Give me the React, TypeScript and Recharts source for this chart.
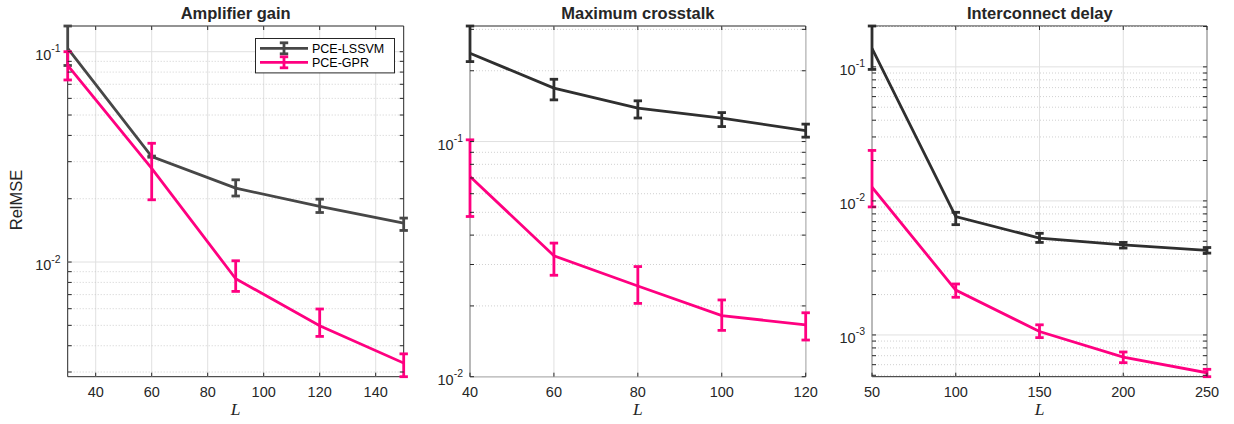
import React from 'react';
import {
  LineChart,
  Line,
  XAxis,
  YAxis,
  ErrorBar,
  ReferenceArea,
  ReferenceLine,
  Legend,
} from 'recharts';

// ---- Amplifier gain ----
const gainL = [30, 60, 90, 120, 150];
const gainLssvm = [0.1038, 0.0317, 0.02245, 0.01837, 0.01531];
const gainLssvmLow = [0.086, 0.0315, 0.0206, 0.0172, 0.01413];
const gainLssvmHigh = [0.1325, 0.0319, 0.0246, 0.0199, 0.01618];
const gainGpr = [0.086, 0.0279, 0.00833, 0.00498, 0.00331];
const gainGprLow = [0.0734, 0.01977, 0.00725, 0.00443, 0.00285];
const gainGprHigh = [0.1, 0.0367, 0.01014, 0.00598, 0.00366];

// ---- Maximum crosstalk ----
const xtalkL = [40, 60, 80, 100, 120];
const xtalkLssvm = [0.2375, 0.1687, 0.1387, 0.1258, 0.1114];
const xtalkLssvmLow = [0.2188, 0.1504, 0.1259, 0.1158, 0.1044];
const xtalkLssvmHigh = [0.31, 0.184, 0.149, 0.1328, 0.1186];
const xtalkGpr = [0.071, 0.0327, 0.0243, 0.0182, 0.0166];
const xtalkGprLow = [0.048, 0.027, 0.0205, 0.01574, 0.01432];
const xtalkGprHigh = [0.1017, 0.037, 0.0294, 0.0212, 0.0187];

// ---- Interconnect delay ----
const delayL = [50, 100, 150, 200, 250];
const delayLssvm = [0.1374, 0.00763, 0.00528, 0.00469, 0.00428];
const delayLssvmLow = [0.0957, 0.00665, 0.0049, 0.00445, 0.00408];
const delayLssvmHigh = [0.2018, 0.00822, 0.00573, 0.0049, 0.00449];
const delayGpr = [0.01265, 0.00216, 0.00106, 0.000684, 0.000522];
const delayGprLow = [0.00902, 0.00191, 0.000955, 0.000621, 0.000488];
const delayGprHigh = [0.0238, 0.0024, 0.00119, 0.000746, 0.000554];

// ---- axes ----
const gainXTicks = [40, 60, 80, 100, 120, 140];
const xtalkXTicks = [40, 60, 80, 100, 120];
const delayXTicks = [50, 100, 150, 200, 250];
const gainXDomain: [number, number] = [30, 150];
const xtalkXDomain: [number, number] = [40, 120];
const delayXDomain: [number, number] = [50, 250];
const gainYDomain: [number, number] = [0.00285, 0.1325];
const xtalkYDomain: [number, number] = [0.01, 0.31];
const delayYDomain: [number, number] = [0.000488, 0.2018];

const seriesNames = ['PCE-LSSVM', 'PCE-GPR'];

const AXIS = '#262626';
const PINK = '#ff0080';
const TOP = 26;
const BOTTOM = 376.7;
const H = 424;
const SANS = '"Liberation Sans", Arial, Helvetica, sans-serif';
const SERIF = '"Liberation Serif", "Times New Roman", serif';

// major (10^k) and minor (m*10^k) tick values inside a log-scale range
function logTicks(lo: number, hi: number) {
  const major: number[] = [];
  const minor: number[] = [];
  const eps = 1e-9;
  for (let k = Math.floor(Math.log10(lo)) - 1; k <= Math.ceil(Math.log10(hi)); k++) {
    for (let m = 1; m <= 9; m++) {
      const v = parseFloat((m * Math.pow(10, k)).toPrecision(6));
      if (v >= lo * (1 - eps) && v <= hi * (1 + eps)) {
        if (m === 1) major.push(v);
        else minor.push(v);
      }
    }
  }
  return { major, minor };
}

function buildRows(
  L: number[],
  m1: number[], lo1: number[], hi1: number[],
  m2: number[], lo2: number[], hi2: number[]
) {
  return L.map((l, i) => ({
    L: l,
    lssvm: m1[i],
    lssvmErr: [m1[i] - lo1[i], hi1[i] - m1[i]],
    gpr: m2[i],
    gprErr: [m2[i] - lo2[i], hi2[i] - m2[i]],
  }));
}

const LegendBox = ({ payload }: any) => {
  const items = [...(payload || [])].sort(
    (a: any, b: any) => seriesNames.indexOf(a.value) - seriesNames.indexOf(b.value)
  );
  return (
    <svg width={141} height={37} style={{ display: 'block', overflow: 'visible' }}>
      <rect x={0.5} y={0.5} width={139} height={34.4} fill="#fff" stroke={AXIS} strokeWidth={1} />
      {items.map((e: any, i: number) => {
        const cy = 10.3 + i * 14;
        return (
          <g key={i}>
            <line x1={5} x2={53} y1={cy} y2={cy} stroke={e.color} strokeWidth={2.8} />
            <line x1={29} x2={29} y1={cy - 5.5} y2={cy + 5.5} stroke={e.color} strokeWidth={2.8} />
            <line x1={24.8} x2={33.2} y1={cy - 5.5} y2={cy - 5.5} stroke={e.color} strokeWidth={2.8} />
            <line x1={24.8} x2={33.2} y1={cy + 5.5} y2={cy + 5.5} stroke={e.color} strokeWidth={2.8} />
            <text x={57} y={cy + 4.4} fontSize={12.5} fontFamily={SANS} fill="#000">
              {e.value}
            </text>
          </g>
        );
      })}
    </svg>
  );
};

type PanelProps = {
  title: string;
  rows: any[];
  xDomain: [number, number];
  xTicks: number[];
  yDomain: [number, number];
  plotLeft: number;
  plotRight: number;
  lssvmColor: string;
  yLabel?: boolean;
  legend?: boolean;
};

function Panel(p: PanelProps) {
  const chartLeft = Math.max(0, p.plotLeft - 68);
  const width = p.plotRight + 20 - chartLeft;
  const plotW = p.plotRight - p.plotLeft;
  const plotH = BOTTOM - TOP;
  const { major, minor } = logTicks(p.yDomain[0], p.yDomain[1]);

  const yTick = (t: any) => {
    const { x, y, payload } = t;
    const v = payload.value;
    const isMajor = major.includes(v);
    const exp = Math.round(Math.log10(v));
    return (
      <g>
        <line x1={x} x2={x + 4} y1={y} y2={y} stroke={AXIS} strokeWidth={1} />
        <line x1={x + plotW} x2={x + plotW - 4} y1={y} y2={y} stroke={AXIS} strokeWidth={1} />
        {isMajor && (
          <text x={x - 7} y={y + 8} textAnchor="end" fontSize={14.5} fontFamily={SANS} fill={AXIS}>
            <tspan>10</tspan>
            <tspan dy={-7.5} fontSize={10.5}>{exp < 0 ? '-' + Math.abs(exp) : String(exp)}</tspan>
          </text>
        )}
      </g>
    );
  };

  const xTick = (t: any) => {
    const { x, y, payload } = t;
    return (
      <g>
        <line x1={x} x2={x} y1={y} y2={y - 4} stroke={AXIS} strokeWidth={1} />
        <line x1={x} x2={x} y1={y - plotH} y2={y - plotH + 4} stroke={AXIS} strokeWidth={1} />
        <text x={x} y={y + 20.5} textAnchor="middle" fontSize={14.5} fontFamily={SANS} fill={AXIS}>
          {payload.value}
        </text>
      </g>
    );
  };

  const xLabel = (props: any) => {
    const vb = props.viewBox || {};
    return (
      <text
        x={vb.x + vb.width / 2}
        y={BOTTOM + 38.5}
        textAnchor="middle"
        fontSize={17.5}
        fontStyle="italic"
        fontFamily={SERIF}
        fill={AXIS}
      >
        L
      </text>
    );
  };

  const yLabel = (props: any) => {
    const vb = props.viewBox || {};
    const tx = vb.x + vb.width - 46;
    const ty = 200;
    return (
      <text
        x={tx}
        y={ty}
        transform={`rotate(-90, ${tx}, ${ty})`}
        textAnchor="middle"
        fontSize={16.5}
        fontFamily={SANS}
        fill={AXIS}
      >
        RelMSE
      </text>
    );
  };

  return (
    <div style={{ position: 'absolute', left: chartLeft, top: 0, width, height: H }}>
      <div
        style={{
          position: 'absolute',
          left: p.plotLeft - chartLeft,
          width: plotW,
          top: 3,
          textAlign: 'center',
          fontFamily: SANS,
          fontWeight: 'bold',
          fontSize: 16.5,
          color: AXIS,
          lineHeight: '20px',
          whiteSpace: 'nowrap',
        }}
      >
        {p.title}
      </div>
      <LineChart
        width={width}
        height={H}
        data={p.rows}
        margin={{ top: TOP, right: 20, bottom: H - BOTTOM - 1, left: p.plotLeft - chartLeft - 1 }}
        style={{ position: 'absolute', left: 0, top: 0 }}
      >
        {/* grid: solid at decades and x ticks, dotted at minor log steps */}
        {p.xTicks.map((v) => (
          <ReferenceLine key={'gx' + v} x={v} stroke="#e0e0e0" strokeWidth={1} />
        ))}
        {minor.map((v) => (
          <ReferenceLine key={'gm' + v} y={v} stroke="#c4c4c4" strokeWidth={0.8} strokeDasharray="1 2" />
        ))}
        {major.map((v) => (
          <ReferenceLine key={'gy' + v} y={v} stroke="#e0e0e0" strokeWidth={1} />
        ))}
        <XAxis
          type="number"
          dataKey="L"
          domain={p.xDomain}
          ticks={p.xTicks}
          allowDataOverflow
          interval={0}
          height={1}
          tickSize={0}
          tickMargin={0}
          axisLine={false}
          tickLine={false}
          tick={xTick}
          label={xLabel}
        />
        <YAxis
          type="number"
          scale="log"
          domain={p.yDomain}
          ticks={[...major, ...minor]}
          allowDataOverflow
          interval={0}
          width={1}
          tickSize={0}
          tickMargin={0}
          axisLine={false}
          tickLine={false}
          tick={yTick}
          label={p.yLabel ? yLabel : undefined}
        />
        <Line
          type="linear"
          dataKey="lssvm"
          name={seriesNames[0]}
          stroke={p.lssvmColor}
          strokeWidth={2.8}
          dot={false}
          activeDot={false}
          isAnimationActive={false}
        >
          <ErrorBar dataKey="lssvmErr" direction="y" width={4.2} stroke={p.lssvmColor} strokeWidth={2.8} isAnimationActive={false} />
        </Line>
        <Line
          type="linear"
          dataKey="gpr"
          name={seriesNames[1]}
          stroke={PINK}
          strokeWidth={2.8}
          dot={false}
          activeDot={false}
          isAnimationActive={false}
        >
          <ErrorBar dataKey="gprErr" direction="y" width={4.2} stroke={PINK} strokeWidth={2.8} isAnimationActive={false} />
        </Line>
        <ReferenceArea
          x1={p.xDomain[0]}
          x2={p.xDomain[1]}
          y1={p.yDomain[0]}
          y2={p.yDomain[1]}
          fill="none"
          fillOpacity={0}
          stroke={AXIS}
          strokeWidth={1}
          ifOverflow="visible"
        />
        {p.legend && (
          <Legend
            layout="vertical"
            align="center"
            verticalAlign="middle"
            wrapperStyle={{ left: 255 - chartLeft, top: 38.3, width: 141, height: 37 }}
            content={(props: any) => <LegendBox payload={props.payload} />}
          />
        )}
      </LineChart>
    </div>
  );
}

const gainRows = buildRows(gainL, gainLssvm, gainLssvmLow, gainLssvmHigh, gainGpr, gainGprLow, gainGprHigh);
const xtalkRows = buildRows(xtalkL, xtalkLssvm, xtalkLssvmLow, xtalkLssvmHigh, xtalkGpr, xtalkGprLow, xtalkGprHigh);
const delayRows = buildRows(delayL, delayLssvm, delayLssvmLow, delayLssvmHigh, delayGpr, delayGprLow, delayGprHigh);

export default function App() {
  return (
    <div
      style={{
        position: 'absolute',
        left: 0,
        top: 0,
        width: 1234,
        height: 424,
        background: '#fff',
        overflow: 'hidden',
      }}
    >
      <Panel
        title="Amplifier gain"
        rows={gainRows}
        xDomain={gainXDomain}
        xTicks={gainXTicks}
        yDomain={gainYDomain}
        plotLeft={67.7}
        plotRight={403.7}
        lssvmColor="#474747"
        yLabel
        legend
      />
      <Panel
        title="Maximum crosstalk"
        rows={xtalkRows}
        xDomain={xtalkXDomain}
        xTicks={xtalkXTicks}
        yDomain={xtalkYDomain}
        plotLeft={470}
        plotRight={805.7}
        lssvmColor="#2f2f2f"
      />
      <Panel
        title="Interconnect delay"
        rows={delayRows}
        xDomain={delayXDomain}
        xTicks={delayXTicks}
        yDomain={delayYDomain}
        plotLeft={872.3}
        plotRight={1207.3}
        lssvmColor="#2f2f2f"
      />
    </div>
  );
}
